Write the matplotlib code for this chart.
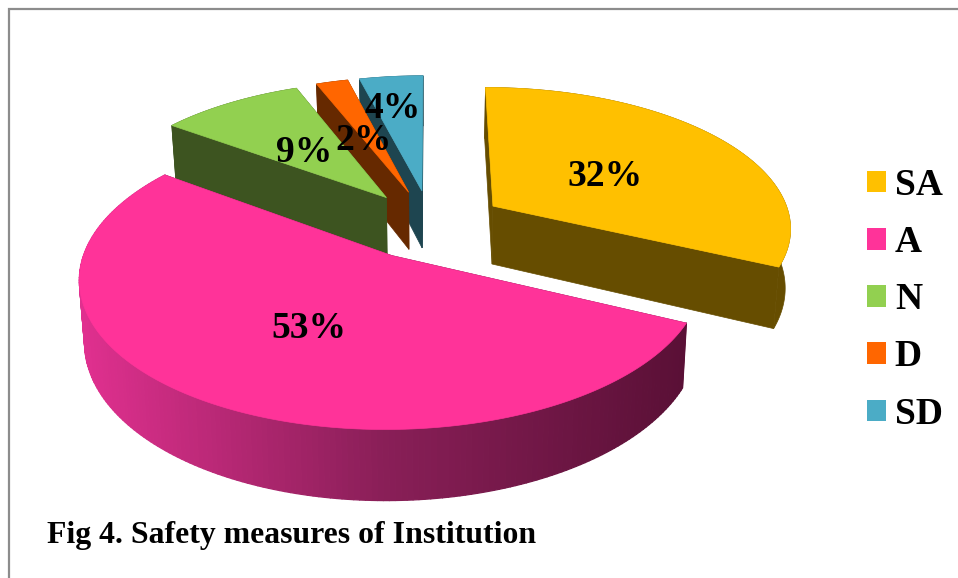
import numpy as np
import matplotlib
matplotlib.use('Agg')
import matplotlib.pyplot as plt
from matplotlib.patches import Polygon, Patch
from matplotlib.collections import PolyCollection
from matplotlib.colors import LinearSegmentedColormap

# data
categories = ['SA', 'A', 'N', 'D', 'SD']
values = [32, 53, 9, 2, 4]
title = 'Fig 4. Safety measures of Institution'

# colours
top_colors = ['#FFC000', '#FF3399', '#92D050', '#FF6600', '#4BACC6']
side_colors = ['#664D00', '#66143D', '#3D5420', '#662900', '#1E4550']
rim_cmap = LinearSegmentedColormap.from_list('rim', ['#E0308F', '#8A1F58', '#5A1036'])

# projection of the tilted pie (pixels)
cx, cy = 431, 224.5
rx, ry = 299, 140
persp = 0.14
explode = 0.25
depth = 59
shrink = 0.985

# label positions, pixels
label_pos = [(605, 176), (309, 328), (304, 153), (364, 140), (393, 108)]

plt.rcParams['font.family'] = ['Liberation Serif', 'DejaVu Serif']


def project(x, y, lower=False):
    w = 1 + persp * y
    px = rx * x / w
    py = -ry * y / w
    if lower:
        return cx + px * shrink, cy + py + depth / w
    return cx + px, cy + py


fig = plt.figure(figsize=(9.58, 5.78), dpi=100)
ax = fig.add_axes([0, 0, 1, 1])
ax.set_xlim(0, 958)
ax.set_ylim(578, 0)
ax.axis('off')

# frame: only top and left show up
ax.plot([958, 9, 9], [9, 9, 578], color='#8C8C8C', lw=1.6, solid_joinstyle='miter')

total = sum(values)
edges = np.cumsum([0] + values) / total * 2 * np.pi

# back slices first, the big front slice last
for i in [4, 3, 2, 0, 1]:
    a0, a1 = edges[i], edges[i + 1]
    mid = (a0 + a1) / 2
    ox, oy = explode * np.sin(mid), explode * np.cos(mid)
    t = np.linspace(a0, a1, 200)
    xs = ox + np.sin(t)
    ys = oy + np.cos(t)
    tx, ty = project(xs, ys)
    bx, by = project(xs, ys, lower=True)
    ax0, ay0 = project(ox, oy)
    bx0, by0 = project(ox, oy, lower=True)

    # cut faces
    for k in [0, -1]:
        ax.add_patch(Polygon([(ax0, ay0), (tx[k], ty[k]), (bx[k], by[k]), (bx0, by0)],
                             closed=True, fc=side_colors[i], ec=side_colors[i], lw=0.5))

    # outer rim
    if categories[i] == 'A':
        quads = [[(tx[j], ty[j]), (tx[j + 1], ty[j + 1]), (bx[j + 1], by[j + 1]), (bx[j], by[j])]
                 for j in range(len(t) - 1)]
        pos = (tx[:-1] - tx.min()) / (tx.max() - tx.min())
        cols = rim_cmap(pos)
        ax.add_collection(PolyCollection(quads, facecolors=cols, edgecolors=cols, linewidths=0.9))
    else:
        ax.add_patch(Polygon(np.r_[np.c_[tx, ty], np.c_[bx, by][::-1]], closed=True,
                             fc=side_colors[i], ec=side_colors[i], lw=0.5))

    # top face
    ax.add_patch(Polygon(np.r_[[(ax0, ay0)], np.c_[tx, ty]], closed=True,
                         fc=top_colors[i], ec=top_colors[i], lw=0.5))

# labels drawn over all slices
for v, (lx, ly) in zip(values, label_pos):
    ax.text(lx, ly, f'{v}%', ha='center', va='center', fontsize=27, fontweight='bold', color='black')

handles = [Patch(fc=c, ec='none', label=n) for n, c in zip(categories, top_colors)]
ax.legend(handles=handles, loc='upper left', bbox_to_anchor=(867 / 958, 1 - 168 / 578),
          frameon=False, prop={'size': 27, 'weight': 'bold'}, handlelength=0.5, handleheight=0.5,
          handletextpad=0.24, labelspacing=0.59, borderpad=0, borderaxespad=0)

ax.text(47, 543, title, ha='left', va='baseline', fontsize=22.9, fontweight='bold', color='black')

fig.savefig('out.png', dpi=100)
